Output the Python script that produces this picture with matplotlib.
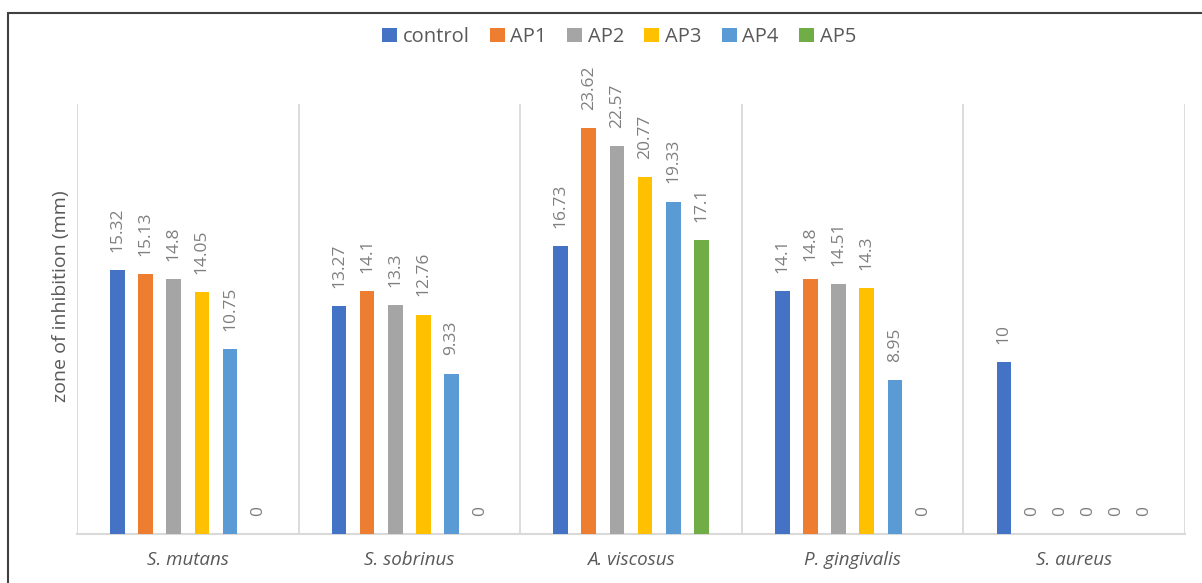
import matplotlib
matplotlib.use("Agg")
import matplotlib.pyplot as plt
import numpy as np
from matplotlib.patches import Rectangle

# data
categories = ['S. mutans', 'S. sobrinus', 'A. viscosus', 'P. gingivalis', 'S. aureus']
series = ['control', 'AP1', 'AP2', 'AP3', 'AP4', 'AP5']
control = [15.32, 13.27, 16.73, 14.1, 10]
ap1 = [15.13, 14.1, 23.62, 14.8, 0]
ap2 = [14.8, 13.3, 22.57, 14.51, 0]
ap3 = [14.05, 12.76, 20.77, 14.3, 0]
ap4 = [10.75, 9.33, 19.33, 8.95, 0]
ap5 = [0, 0, 17.1, 0, 0]
values = [control, ap1, ap2, ap3, ap4, ap5]
colors = ['#4472C4', '#ED7D31', '#A5A5A5', '#FFC000', '#5B9BD5', '#70AD47']

plt.rcParams['font.family'] = ['Open Sans', 'DejaVu Sans']

fig = plt.figure(figsize=(12.02, 5.83), dpi=100)
ax = fig.add_axes([77/1202, 49/583, (1185-77)/1202, (534-104)/583])

x = np.arange(len(categories))
step = 0.127
width = 0.066
for i, (name, vals) in enumerate(zip(series, values)):
    pos = x + (i - 2.5) * step
    bars = ax.bar(pos, vals, width, color=colors[i], label=name, zorder=3)
    for b, v in zip(bars, vals):
        lab = ('%.2f' % v).rstrip('0').rstrip('.') if v else '0'
        ax.annotate(lab, (b.get_x() + b.get_width() / 2, v), xytext=(0, 13),
                    textcoords='offset points', rotation=90, ha='center', va='bottom',
                    fontsize=12.5, color='#7f7f7f')

ax.set_xlim(-0.5, len(categories) - 0.5)
ax.set_ylim(0, 25)
for b in np.arange(len(categories) + 1) - 0.5:
    ax.axvline(b, color='#d9d9d9', lw=1.3, zorder=1)
for s in ['top', 'left', 'right']:
    ax.spines[s].set_visible(False)
ax.spines['bottom'].set_color('#d9d9d9')
ax.spines['bottom'].set_linewidth(1.5)
ax.set_yticks([])
ax.set_xticks(x)
ax.set_xticklabels(categories, fontstyle='italic', fontsize=13.5, color='#595959')
ax.tick_params(axis='x', length=0, pad=12)
ax.set_ylabel('zone of inhibition (mm)', fontsize=14, color='#595959')
ax.yaxis.set_label_coords(-0.006, 0.553)

fig.legend(loc='center', bbox_to_anchor=(619/1202, 1 - 37/583), ncol=6, frameon=False,
           fontsize=14.5, handlelength=0.75, handleheight=0.65, handletextpad=0.28,
           columnspacing=1.0, labelcolor='#595959')

# outer chart frame (top and left edges visible)
fig.patches.append(Rectangle((8/1202, -0.1), 1.2, 1 - 13/583 + 0.1, transform=fig.transFigure,
                             fill=False, edgecolor='#404040', lw=1.5))

fig.savefig('out.png', dpi=100)
